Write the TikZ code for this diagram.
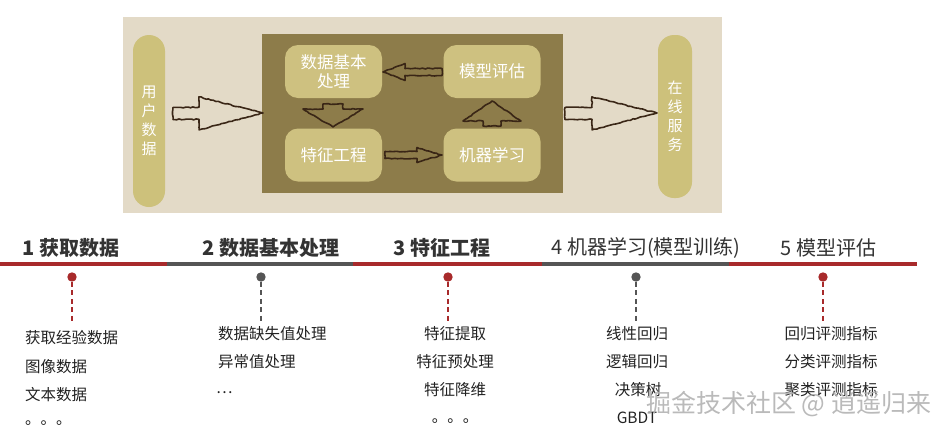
\documentclass[tikz,border=0pt]{standalone}
\usepackage{fontspec}
\setmainfont{Noto Sans CJK SC}
\usetikzlibrary{calc,decorations.pathmorphing}
\definecolor{parch}{HTML}{E3DAC7}
\definecolor{coreC}{HTML}{8D7C4A}
\definecolor{boxC}{HTML}{CEC180}
\definecolor{pillC}{HTML}{CDC17B}
\definecolor{arrC}{HTML}{3A2616}
\definecolor{redL}{HTML}{A82A2B}
\definecolor{grayL}{HTML}{555555}
\definecolor{titleC}{HTML}{333333}
\definecolor{itemC}{HTML}{222222}
\newcommand\blkarr[5]{%
  \coordinate (tmpH) at ($(#2)!#5!(#1)$);
  \draw[sketch] ($(#1)!#3!90:(#2)$) -- ($(tmpH)!#3!90:(#2)$) -- ($(tmpH)!#4!90:(#2)$) -- (#2)
    -- ($(tmpH)!#4!-90:(#2)$) -- ($(tmpH)!#3!-90:(#2)$) -- ($(#1)!#3!-90:(#2)$) -- cycle;}
\begin{document}
\begin{tikzpicture}[x=1pt,y=-1pt,
  sketch/.style={draw=arrC, line width=1.6pt, line join=round,
    decorate, decoration={random steps, segment length=2.5pt, amplitude=0.5pt}},
  pill/.style={fill=pillC, rounded corners=16pt, inner sep=0pt, text=white, align=center,
    font=\fontsize{15}{19}\selectfont},
  stage/.style={fill=boxC, rounded corners=13pt, minimum width=97pt, minimum height=53pt,
    inner sep=0pt, text=white, align=center, font=\fontsize{16.5}{19}\selectfont},
  tl/.style={line width=4pt},
  dotr/.style={circle, fill=redL, minimum size=9.4pt, inner sep=0pt},
  dotg/.style={circle, fill=grayL, minimum size=9.4pt, inner sep=0pt},
  dsh/.style={line width=1.2pt, dash pattern=on 5pt off 3.5pt},
  ttl/.style={anchor=west, text=titleC, font=\fontsize{20}{22}\selectfont\bfseries},
  ttn/.style={anchor=west, text=titleC, font=\fontsize{20}{22}\selectfont},
  itm/.style={text=itemC, font=\fontsize{15.5}{18}\selectfont, inner sep=0pt},
  itl/.style={itm, anchor=west}
]
\useasboundingbox (0,0) rectangle (948,429);
% top panel
\node[fill=parch, minimum width=599pt, minimum height=196pt, inner sep=0pt] (panel) at (422.5,115) {};
\node[fill=coreC, minimum width=301pt, minimum height=159pt, inner sep=0pt] (core) at (412.5,113.5) {};
\node[pill, minimum width=32pt, minimum height=172pt] (user) at (149,121) {用\\户\\数\\据};
\node[pill, minimum width=34pt, minimum height=163pt] (serve) at (675,116.5) {在\\线\\服\\务};
\node[stage] (b1) at (333.5,71.5) {数据基本\\处理};
\node[stage] (b2) at (492,71.5) {模型评估};
\node[stage] (b3) at (333.5,155) {特征工程};
\node[stage] (b4) at (492,155) {机器学习};
% big arrows
\coordinate (a1s) at (173,113.5);
\coordinate (a1e) at (263,113);
\blkarr{a1s}{a1e}{6pt}{16.5pt}{64pt}
\coordinate (a2s) at (565,113.5);
\coordinate (a2e) at (657,113);
\blkarr{a2s}{a2e}{6pt}{16.5pt}{65pt}
% inner arrows
\coordinate (a3s) at (442,72);
\coordinate (a3e) at (383,72);
\blkarr{a3s}{a3e}{3.5pt}{8.5pt}{22pt}
\coordinate (a4s) at (385,155);
\coordinate (a4e) at (442,155);
\blkarr{a4s}{a4e}{3.5pt}{7.5pt}{25pt}
\coordinate (a5s) at (333,104);
\coordinate (a5e) at (333,127);
\blkarr{a5s}{a5e}{10pt}{30pt}{18pt}
\coordinate (a6s) at (492,126);
\coordinate (a6e) at (492,101);
\blkarr{a6s}{a6e}{9pt}{29pt}{20pt}
% timeline
\coordinate (t0) at (0,264);
\coordinate (t1) at (167,264);
\coordinate (t2) at (353,264);
\coordinate (t3) at (542,264);
\coordinate (t4) at (729,264);
\coordinate (t5) at (917,264);
\draw[tl, redL] (t0) -- (t1);
\draw[tl, grayL] (t1) -- (t2);
\draw[tl, redL] (t2) -- (t3);
\draw[tl, grayL] (t3) -- (t4);
\draw[tl, redL] (t4) -- (t5);
% titles
\node[ttl] (h1) at (19,248) {1 获取数据};
\node[ttl] (h2) at (199,248) {2 数据基本处理};
\node[ttl] (h3) at (390,248) {3 特征工程};
\node[ttn] (h4) at (548,248) {4 机器学习(模型训练)};
\node[ttn] (h5) at (777,248) {5 模型评估};
% dots and dashes
\node[dotr] (d1) at (72,277) {};
\node[dotg] (d2) at (261,277) {};
\node[dotr] (d3) at (448,277) {};
\node[dotg] (d4) at (636,277) {};
\node[dotr] (d5) at (823,277) {};
\coordinate (e1) at (72,322);
\coordinate (e2) at (261,322);
\coordinate (e3) at (448,322);
\coordinate (e4) at (636,322);
\coordinate (e5) at (823,322);
\draw[dsh, redL] (d1) -- (e1);
\draw[dsh, grayL] (d2) -- (e2);
\draw[dsh, redL] (d3) -- (e3);
\draw[dsh, grayL] (d4) -- (e4);
\draw[dsh, redL] (d5) -- (e5);
% column 1
\node[itl] (c11) at (25,338) {获取经验数据};
\node[itl] (c12) at (25,367) {图像数据};
\node[itl] (c13) at (25,395) {文本数据};
\node[itl] (c14) at (25,423) {。。。};
% column 2
\node[itl] (c21) at (218,334) {数据缺失值处理};
\node[itl] (c22) at (218,362) {异常值处理};
\node[itl] (c23) at (216,393) {…};
% column 3
\node[itm] (c31) at (455,334) {特征提取};
\node[itm] (c32) at (455,362) {特征预处理};
\node[itm] (c33) at (455,390) {特征降维};
\node[itm] (c34) at (455,421) {。。。};
% column 4
\node[itm] (c41) at (637,334) {线性回归};
\node[itm] (c42) at (637,362) {逻辑回归};
\node[itm] (c43) at (638,390) {决策树};
\node[itm] (c44) at (637,418) {GBDT};
% column 5
\node[itm] (c51) at (831,334) {回归评测指标};
\node[itm] (c52) at (831,362) {分类评测指标};
\node[itm] (c53) at (831,390) {聚类评测指标};
% watermark
\node[anchor=west, inner sep=0pt, text=black!30, opacity=0.9, font=\fontsize{25}{27}\selectfont] (wm) at (646,404) {掘金技术社区 @ 逍遥归来};
\end{tikzpicture}
\end{document}
